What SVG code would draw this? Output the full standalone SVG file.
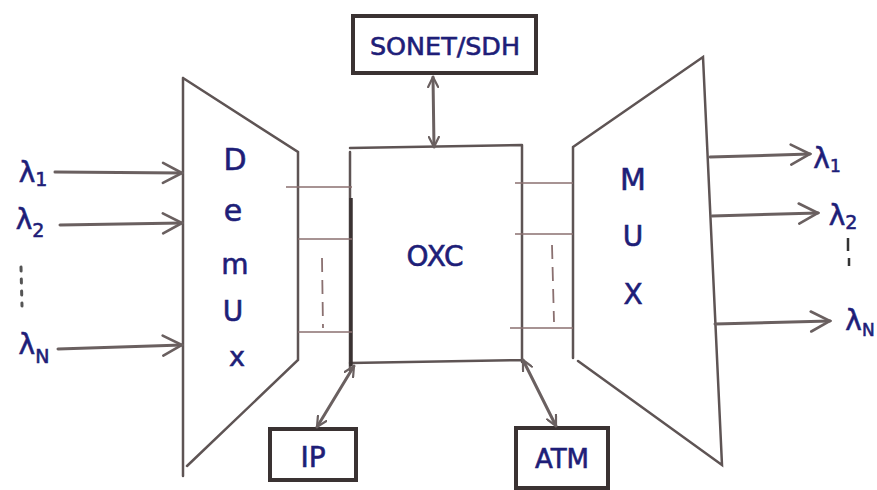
<svg xmlns="http://www.w3.org/2000/svg" width="877" height="490" viewBox="0 0 877 490">
<defs>
<style>
.ln{stroke:#5e5454;stroke-width:2.5;fill:none;stroke-linecap:round}
.thin{stroke:#8a7070;stroke-width:1.6;fill:none}
.dash{stroke:#8a7070;stroke-width:1.8;fill:none;stroke-dasharray:14 8}
.box{stroke:#3a3232;stroke-width:4;fill:#fff}
.arr{stroke:#6a6060;stroke-width:3;fill:none;stroke-linecap:round}
.t{font-family:"DejaVu Sans","Liberation Sans",sans-serif;fill:#1e1e78;text-anchor:middle;stroke:#1e1e78;stroke-width:0.6}
</style>
<marker id="ah" viewBox="0 0 12 12" refX="11" refY="6" markerWidth="12" markerHeight="12" markerUnits="userSpaceOnUse" orient="auto-start-reverse">
<path d="M1,1 L11,6 L1,11" fill="none" stroke="#6a6060" stroke-width="2.2" stroke-linecap="round"/>
</marker>
<marker id="ahL" viewBox="0 0 24 24" refX="22" refY="12" markerWidth="24" markerHeight="24" markerUnits="userSpaceOnUse" orient="auto-start-reverse">
<path d="M3,2 L22,12 L3,22" fill="none" stroke="#6a6060" stroke-width="2.6" stroke-linecap="round"/>
</marker>
</defs>
<rect width="877" height="490" fill="#fff"/>

<g id="demux">
<path class="ln" d="M183,78 L183,476 M183,78 L298,152 L298,360 L187,466"/>
<text class="t" x="235" y="170" font-size="30">D</text>
<text class="t" x="233" y="221" font-size="30">e</text>
<text class="t" x="235" y="274" font-size="28">m</text>
<text class="t" x="233" y="321" font-size="28">U</text>
<text class="t" x="237" y="366" font-size="27">x</text>
</g>

<g id="oxc">
<path class="ln" d="M350,148 L522,145 M350,363 L522,360 M522,145 L522,362"/>
<path class="ln" d="M350,152 L350,370"/>
<path stroke="#3a3232" stroke-width="3.5" d="M351,198 L351,366"/>
<text class="t" x="435" y="266" font-size="28">OXC</text>
</g>

<g id="mux">
<path class="ln" d="M573,147 L573,358 M573,147 L703,57 L722,465 L578,361"/>
<text class="t" x="633" y="190" font-size="30">M</text>
<text class="t" x="633" y="246" font-size="28">U</text>
<text class="t" x="633" y="304" font-size="28">X</text>
</g>

<g id="sonet">
<rect class="box" x="353" y="16" width="183" height="57"/>
<text class="t" x="445" y="55" font-size="24" textLength="150" lengthAdjust="spacingAndGlyphs">SONET/SDH</text>
</g>

<g id="ip">
<rect class="box" x="270" y="429" width="86" height="51"/>
<text class="t" x="313" y="467" font-size="28">IP</text>
</g>

<g id="atm">
<rect class="box" x="516" y="428" width="92" height="60"/>
<text class="t" x="562" y="468" font-size="26">ATM</text>
</g>

<g id="labels">
<text class="t" x="33" y="182" font-size="28">λ<tspan font-size="19" dy="4">1</tspan></text>
<text class="t" x="30" y="229" font-size="28">λ<tspan font-size="19" dy="8">2</tspan></text>
<path stroke="#555" stroke-width="3" stroke-dasharray="4 8" stroke-linecap="round" d="M21,267 L22,306"/>
<text class="t" x="34" y="354" font-size="28">λ<tspan font-size="19" dy="9">N</tspan></text>
<text class="t" x="827" y="168" font-size="28">λ<tspan font-size="17" dy="4">1</tspan></text>
<text class="t" x="843" y="225" font-size="28">λ<tspan font-size="19" dy="4">2</tspan></text>
<path stroke="#333" stroke-width="2.5" d="M848,238 L848,251 M849,258 L849,266"/>
<text class="t" x="860" y="330" font-size="28">λ<tspan font-size="17" dy="6">N</tspan></text>
</g>

<g id="connectors">
<line class="arr" x1="55" y1="172" x2="182" y2="173" marker-end="url(#ahL)"/>
<line class="arr" x1="60" y1="225" x2="182" y2="223" marker-end="url(#ahL)"/>
<line class="arr" x1="58" y1="349" x2="182" y2="345" marker-end="url(#ahL)"/>
<line class="arr" x1="710" y1="157" x2="810" y2="154" marker-end="url(#ahL)"/>
<line class="arr" x1="712" y1="216" x2="818" y2="213" marker-end="url(#ahL)"/>
<line class="arr" x1="715" y1="324" x2="830" y2="321" marker-end="url(#ahL)"/>
<line class="arr" x1="433" y1="77" x2="434" y2="147" marker-start="url(#ah)" marker-end="url(#ah)"/>
<line class="arr" x1="354" y1="366" x2="317" y2="427" marker-start="url(#ah)" marker-end="url(#ah)"/>
<line class="arr" x1="523" y1="360" x2="556" y2="426" marker-start="url(#ah)" marker-end="url(#ah)"/>
<path class="thin" d="M286,187 L352,187 M298,239 L352,239 M298,332 L352,332"/>
<path class="dash" d="M322,258 L323,328"/>
<path class="thin" d="M515,183 L573,183 M515,234 L573,234 M510,328 L573,328"/>
<path class="dash" d="M552,245 L554,322"/>
</g>
</svg>
